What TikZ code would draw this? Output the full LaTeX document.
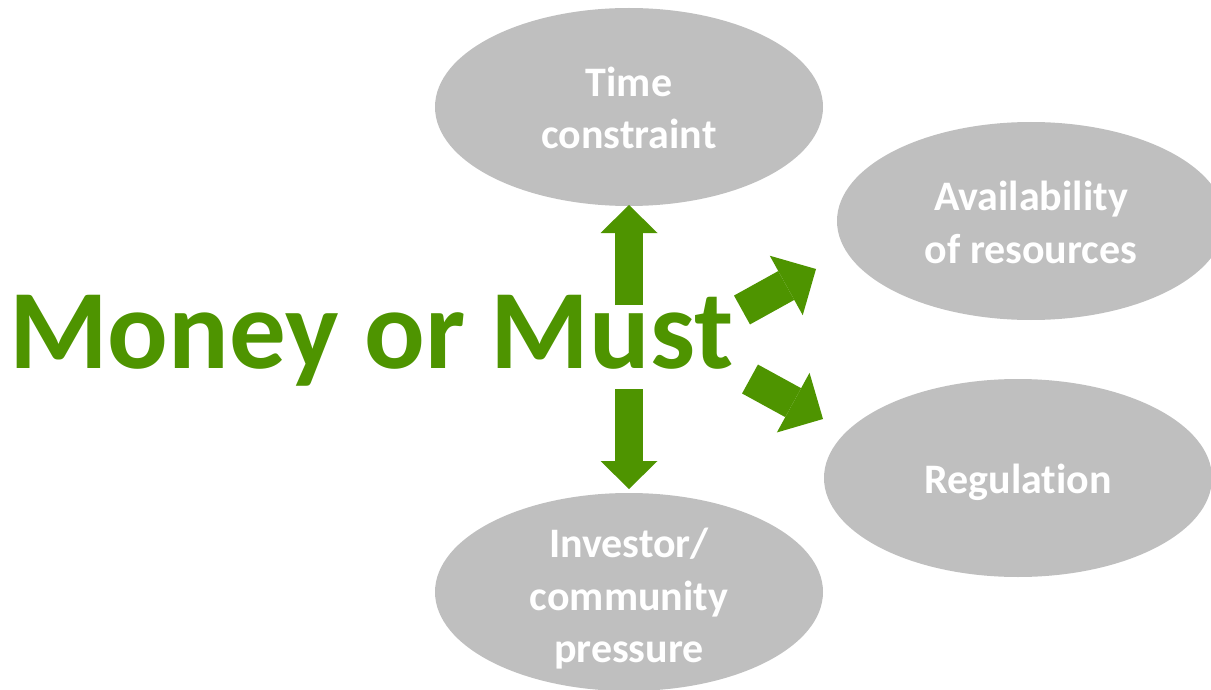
\documentclass[tikz,border=0pt]{standalone}
\usepackage{fontspec}
\setmainfont[Ligatures=NoCommon]{Carlito}
\usetikzlibrary{arrows.meta,shapes}
\definecolor{mustgreen}{RGB}{78,148,0}
\definecolor{bubblegrey}{RGB}{191,191,191}

\begin{document}
\begin{tikzpicture}[x=1pt, y=-1pt,
  bubble/.style={ellipse, fill=bubblegrey, minimum width=388pt, minimum height=198pt, inner sep=0pt},
  bubbletext/.style={inner sep=0pt, text=white, align=center, font=\fontsize{42}{52.5}\selectfont\bfseries},
  uparrow/.style={mustgreen, line width=28pt, -{Triangle[width=57pt, length=28pt, line width=0pt]}},
  sidearrow/.style={mustgreen, line width=33pt, -{Triangle[width=68pt, length=34pt, line width=0pt]}}]

\useasboundingbox (0,0) rectangle (1211,690);
\clip (0,0) rectangle (1211,690);

\node[bubble] (time) at (629,107) {};
\node[bubble] (avail) at (1031,221) {};
\node[bubble] (reg) at (1018,478) {};
\node[bubble] (invest) at (629,592) {};

\node[bubbletext] (timeText) at ([yshift=-1pt]time.center) {Time\\constraint};
\node[bubbletext] (availText) at ([yshift=-1.5pt]avail.center) {Availability\\of resources};
\node[bubbletext] (regText) at ([yshift=-4pt]reg.center) {Regulation};
\node[bubbletext] (investText) at ([yshift=-7pt]invest.center) {Investor/\\community\\pressure};

\node[anchor=base west, inner sep=0pt, text=mustgreen, font=\fontsize{113}{135}\selectfont\bfseries] (title) at (9,368) {Money or Must};

% arrow ends
\coordinate (upTail) at (629,305);
\coordinate (upTip) at (629,205);
\coordinate (downTail) at (629,389);
\coordinate (downTip) at (629,489);
\coordinate (availTail) at (742,310);
\coordinate (availTip) at (816,269);
\coordinate (regTail) at (750,379);
\coordinate (regTip) at (823,419);

\draw[uparrow] (upTail) -- (upTip);
\draw[uparrow] (downTail) -- (downTip);
\draw[sidearrow] (availTail) -- (availTip);
\draw[sidearrow] (regTail) -- (regTip);

\end{tikzpicture}
\end{document}
